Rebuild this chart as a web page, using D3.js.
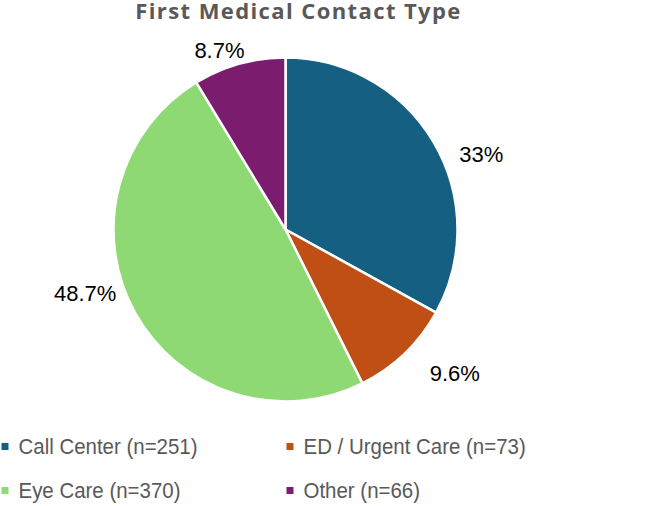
<!DOCTYPE html>
<html>
<head>
<meta charset="utf-8">
<script src="https://cdn.jsdelivr.net/npm/d3@7"></script>
<style>
  body { margin: 0; background: #fff; }
  svg { display: block; }
</style>
</head>
<body>
<div id="pie-chart"></div>
<script>
// chart data
var categories = ["Call Center", "ED / Urgent Care", "Eye Care", "Other"];
var counts = [251, 73, 370, 66];
var pctLabels = ["33%", "9.6%", "48.7%", "8.7%"];
var colors = ["#156082", "#c04f15", "#8ed973", "#7b1c6e"];
// where Excel put the labels: angle shift from mid-slice (deg) and distance from centre
var labelShift = [9.4, -5.9, 11.4, -4.6];
var labelDist = [210, 222, 210, 191];

var width = 646, height = 506,
    cx = 285.5, cy = 229.5, radius = 172;

var svg = d3.select("#pie-chart").append("svg")
    .attr("width", width)
    .attr("height", height);

svg.append("text")
    .attr("x", 298.5)
    .attr("y", 18.5)
    .attr("text-anchor", "middle")
    .style("font-family", "'Open Sans', sans-serif")
    .style("font-weight", "bold")
    .style("font-size", "22px")
    .style("letter-spacing", "1.4px")
    .style("fill", "#595959")
    .text("First Medical Contact Type");

var pie = d3.pie().sort(null).value(function(d) { return d; });
var arcs = pie(counts);
var arc = d3.arc().innerRadius(0).outerRadius(radius);

var g = svg.append("g")
    .attr("transform", "translate(" + cx + "," + cy + ")");

g.selectAll("path")
    .data(arcs)
  .enter().append("path")
    .attr("d", arc)
    .attr("fill", function(d, i) { return colors[i]; })
    .attr("stroke", "#fff")
    .attr("stroke-width", 2.5)
    .attr("stroke-linejoin", "round");

g.selectAll("text.lbl")
    .data(arcs)
  .enter().append("text")
    .attr("class", "lbl")
    .attr("x", function(d, i) {
        var a = (d.startAngle + d.endAngle) / 2 + labelShift[i] * Math.PI / 180;
        return Math.sin(a) * labelDist[i];
    })
    .attr("y", function(d, i) {
        var a = (d.startAngle + d.endAngle) / 2 + labelShift[i] * Math.PI / 180;
        return -Math.cos(a) * labelDist[i];
    })
    .attr("dy", "0.36em")
    .attr("text-anchor", "middle")
    .style("font-family", "'Liberation Sans', Arial, sans-serif")
    .style("font-size", "22px")
    .style("fill", "#000")
    .text(function(d, i) { return pctLabels[i]; });

// legend, 2 x 2
var legX = d3.scalePoint().domain([0, 1]).range([1.5, 286.5]);
var legY = d3.scalePoint().domain([0, 1]).range([454, 498]);

var leg = svg.selectAll("g.leg")
    .data(categories)
  .enter().append("g")
    .attr("class", "leg")
    .attr("transform", function(d, i) {
        return "translate(" + legX(i % 2) + "," + legY(Math.floor(i / 2)) + ")";
    });

leg.append("rect")
    .attr("x", 0)
    .attr("y", -11)
    .attr("width", 7)
    .attr("height", 7)
    .attr("fill", function(d, i) { return colors[i]; });

// the original legend font is a narrow face, squeeze Liberation Sans to match
leg.append("text")
    .attr("transform", "translate(17,0) scale(0.93,1)")
    .style("font-family", "'Liberation Sans', sans-serif")
    .style("font-size", "22px")
    .style("fill", "#595959")
    .text(function(d, i) { return d + " (n=" + counts[i] + ")"; });
</script>
</body>
</html>
